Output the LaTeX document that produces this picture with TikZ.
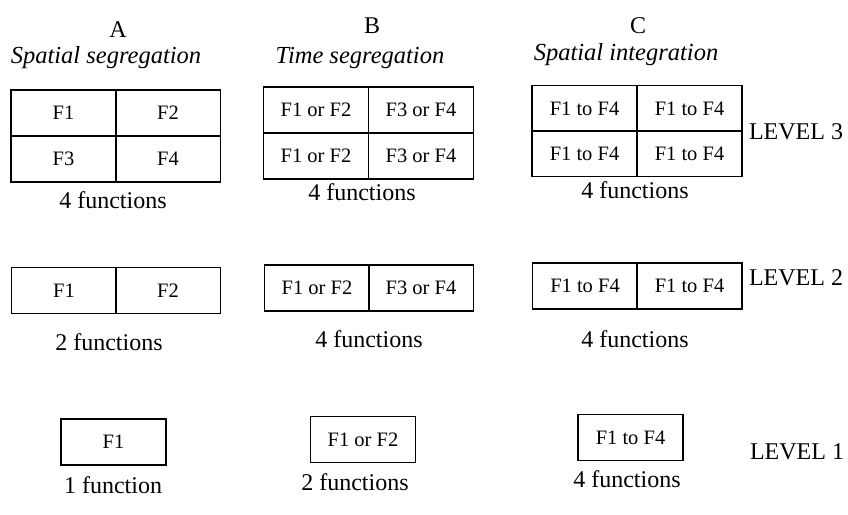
\documentclass[tikz,border=0pt]{standalone}
\usepackage{fontspec}
\setmainfont{Liberation Serif}
\usepackage{tikz}

\begin{document}
\begin{tikzpicture}
[x=1pt, y=-1pt]
\tikzstyle{every node}=[inner sep=0pt, font=\fontsize{24}{28}\selectfont]
\tikzstyle{cell}=[draw, line width=1.2pt, minimum width=105pt, minimum height=46pt, font=\fontsize{20.5}{24}\selectfont]
\tikzstyle{head}=[font=\fontsize{24.5}{28}\selectfont\itshape]
\useasboundingbox (0,0) rectangle (848,514);

% column headers
\node (colA) at (118,30) {A};
\node[head] (headA) at (106,58) {Spatial segregation};
\node (colB) at (372,26) {B};
\node[head] (headB) at (360,58) {Time segregation};
\node (colC) at (638,26) {C};
\node[head] (headC) at (626,55) {Spatial integration};

% level 3
\node[cell] (a3nw) at (63.5,113) {F1};
\node[cell] (a3ne) at (168,113) {F2};
\node[cell] (a3sw) at (63.5,159) {F3};
\node[cell] (a3se) at (168,159) {F4};
\node (a3txt) at (113,200) {4 functions};

\node[cell] (b3nw) at (316,110) {F1 or F2};
\node[cell] (b3ne) at (421,110) {F3 or F4};
\node[cell] (b3sw) at (316,156) {F1 or F2};
\node[cell] (b3se) at (421,156) {F3 or F4};
\node (b3txt) at (362,192) {4 functions};

\node[cell] (c3nw) at (584.5,108.5) {F1 to F4};
\node[cell] (c3ne) at (689.5,108.5) {F1 to F4};
\node[cell] (c3sw) at (584.5,153.5) {F1 to F4};
\node[cell] (c3se) at (689.5,153.5) {F1 to F4};
\node (c3txt) at (635,190) {4 functions};

\node (lev3) at (796,132) {LEVEL 3};

% level 2
\node[cell] (a2w) at (64,290.5) {F1};
\node[cell] (a2e) at (168,290.5) {F2};
\node (a2txt) at (109,342) {2 functions};

\node[cell] (b2w) at (317,288) {F1 or F2};
\node[cell] (b2e) at (421,288) {F3 or F4};
\node (b2txt) at (369,339) {4 functions};

\node[cell] (c2w) at (585,286) {F1 to F4};
\node[cell] (c2e) at (689.5,286) {F1 to F4};
\node (c2txt) at (635,339) {4 functions};

\node (lev2) at (796,278) {LEVEL 2};

% level 1
\node[cell] (a1) at (113.5,442) {F1};
\node (a1txt) at (113,485) {1 function};

\node[cell] (b1) at (363,439.5) {F1 or F2};
\node (b1txt) at (355,482) {2 functions};

\node[cell] (c1) at (630.5,437.5) {F1 to F4};
\node (c1txt) at (627,479) {4 functions};

\node (lev1) at (797,452) {LEVEL 1};
\end{tikzpicture}
\end{document}
